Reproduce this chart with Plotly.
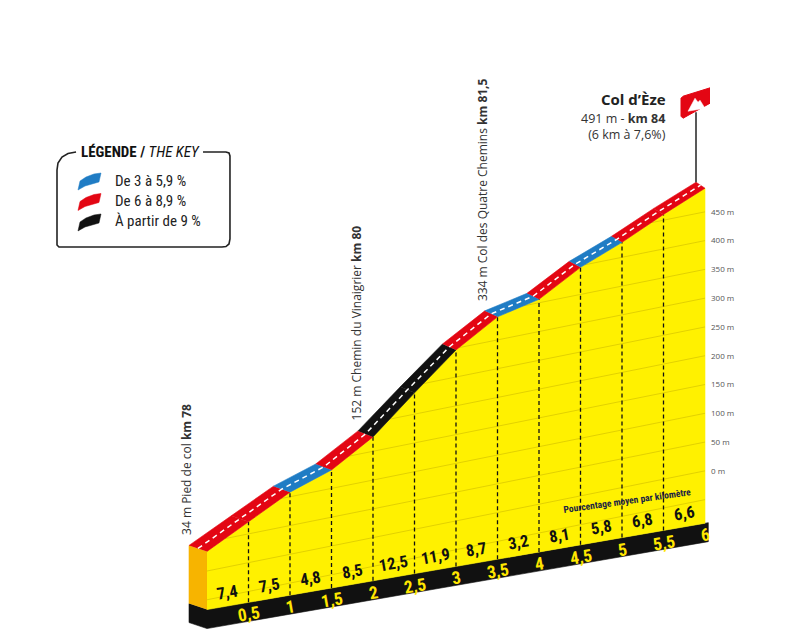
import numpy as np
import plotly.graph_objects as go

km = [0, 0.5, 1, 1.5, 2, 2.5, 3, 3.5, 4, 4.5, 5, 5.5, 6]
altitude = [34, 71, 108, 132, 175, 237, 297, 340, 356, 397, 426, 460, 491]
pente = [7.4, 7.5, 4.8, 8.5, 12.5, 11.9, 8.7, 3.2, 8.1, 5.8, 6.8, 6.6]
km_labels = ["0,5", "1", "1,5", "2", "2,5", "3", "3,5", "4", "4,5", "5", "5,5", "6"]
alt_ticks = [0, 50, 100, 150, 200, 250, 300, 350, 400, 450]
grid_levels = [-50, 0, 50, 100, 150, 200, 250, 300, 350, 400, 450]
repere_km = [0, 2, 3.5]
repere_txt = ["34 m Pied de col <b>km 78</b>",
              "152 m Chemin du Vinaigrier <b>km 80</b>",
              "334 m Col des Quatre Chemins <b>km 81,5</b>"]
legend_txt = ["De 3 à 5,9 %", "De 6 à 8,9 %", "À partir de 9 %"]

YELLOW = "#fff100"
ORANGE = "#f7b400"
BLUE = "#1f7cc4"
RED = "#e30613"
BLACK = "#111111"
NARROW = "Roboto Condensed, Liberation Sans Narrow, Roboto, sans-serif"
OPEN = "Open Sans, Noto Sans, sans-serif"

W, H, MR = 790, 634, 88
PW = W - MR
OFS = 8           # marge du body de la page
PX_KM = 83.0      # px par km
PX_M = 0.5756     # px par m
SHEAR = 29.0      # perspective des altitudes (m par km)
BASE0, BASE_SLOPE, BASE_H = -67.0, 25.0, 33.0
X0_PX, Y0_PX = 207, 571   # km 0 / altitude-écran 0


def base(k):
    return BASE0 + BASE_SLOPE * np.asarray(k, dtype=float)


def depth(k):
    # décalage vers l'arrière du ruban (perspective)
    return (-18 + 1.5 * np.asarray(k, dtype=float)) / PX_KM, 6 / PX_M


def col(p):
    if p >= 9:
        return BLACK
    if p >= 6:
        return RED
    return BLUE


fk = np.array(km, dtype=float)
fe = np.array(altitude, dtype=float)
fD = fe + SHEAR * fk
dk, dD = depth(fk)
bk, bD = fk + dk, fD + dD

fig = go.Figure()


def poly(xs, ys, color, lw=0.6):
    fig.add_trace(go.Scatter(x=list(xs), y=list(ys), mode="lines", fill="toself",
                             fillcolor=color, line=dict(color=color, width=lw),
                             hoverinfo="skip", showlegend=False))


# socle noir (face avant + côté gauche)
kend = fk[-1] + 0.04
poly([0, kend, kend, 0], [base(0), base(kend), base(kend) - BASE_H, base(0) - BASE_H], BLACK)
poly([0, bk[0], bk[0], 0], [base(0), base(0) + dD, base(0) + dD - BASE_H, base(0) - BASE_H], BLACK)

# côté gauche orange et face jaune
poly([0, 0, bk[0], bk[0]], [base(0), fD[0], bD[0], base(0) + dD], ORANGE)
poly(list(fk) + [fk[-1], 0], list(fD) + [float(base(fk[-1])), float(base(0))], YELLOW)

# lignes d'altitude inclinées dans la face jaune
gx, gy = [], []
for e in grid_levels:
    k0 = 0.0 if e <= fe[0] else float(np.interp(e, fe, fk))
    gx += [k0, fk[-1], None]
    gy += [e + SHEAR * k0, e + SHEAR * fk[-1], None]
fig.add_trace(go.Scatter(x=gx, y=gy, mode="lines", line=dict(color="rgba(190,170,0,0.45)", width=1),
                         hoverinfo="skip", showlegend=False))

# repères verticaux tous les 500 m
vx, vy = [], []
for k, d in zip(fk[1:-1], fD[1:-1]):
    vx += [k, k, None]
    vy += [float(base(k)), d, None]
fig.add_trace(go.Scatter(x=vx, y=vy, mode="lines", line=dict(color="#111", width=1.3, dash="4px,3px"),
                         hoverinfo="skip", showlegend=False))

# ruban coloré selon la pente
for i, p in enumerate(pente):
    c = col(p)
    poly([fk[i], fk[i + 1], bk[i + 1], bk[i]], [fD[i], fD[i + 1], bD[i + 1], bD[i]], c)

fig.add_trace(go.Scatter(x=(fk + bk) / 2, y=(fD + bD) / 2, mode="lines",
                         line=dict(color="white", width=1.5, dash="5px,4px"),
                         hoverinfo="skip", showlegend=False))

ann = []
# pourcentages par demi-km
for i, p in enumerate(pente):
    km_mid = (fk[i] + fk[i + 1]) / 2
    ann.append(dict(x=km_mid, y=float(base(km_mid)) + 23,
                    text="<b>" + f"{p:.1f}".replace(".", ",") + "</b>", showarrow=False,
                    textangle=-10, font=dict(family=NARROW, size=16.5, color="#111")))
# kilomètres sur le socle
for k, t in zip(fk[1:], km_labels):
    ann.append(dict(x=k, y=float(base(k)) - 21, text="<b>" + t + "</b>", showarrow=False,
                    textangle=-10, font=dict(family=NARROW, size=17.5, color="#ffe600")))

ann.append(dict(x=5.07, y=122, text="<b>Pourcentage moyen par kilomètre</b>", showarrow=False,
                textangle=-8, font=dict(family=NARROW, size=9.5, color="#1a2444")))

# repères nommés (texte vertical)
for k, t in zip(repere_km, repere_txt):
    i = km.index(k)
    ann.append(dict(x=bk[i], y=bD[i], text=t, showarrow=False, textangle=-90,
                    xanchor="center", yanchor="bottom", xshift=-2, yshift=8,
                    font=dict(family=OPEN, size=12, color="#333")))

# sommet
sx, sy = fk[-1], fD[-1]
ann.append(dict(x=sx, y=sy, text="<b>Col d’Èze</b>", showarrow=False, xanchor="right",
                yanchor="middle", xshift=-37, yshift=89, font=dict(family=OPEN, size=15, color="#222")))
ann.append(dict(x=sx, y=sy, text="491 m - <b>km 84</b><br>(6 km à 7,6%)", showarrow=False,
                xanchor="right", yanchor="top", align="right", xshift=-37, yshift=80,
                font=dict(family=OPEN, size=12.5, color="#333")))

shapes = []
# drapeau du sommet
ax0, ay0 = bk[-1], bD[-1]


def off(dx, dy):
    return ax0 + dx / PX_KM, ay0 + dy / PX_M


def dpath(pts):
    return "M " + " L ".join(f"{x:.4f},{y:.3f}" for x, y in (off(a, b) for a, b in pts)) + " Z"


px0, py0 = off(0, 0)
px1, py1 = off(0, 70)
shapes.append(dict(type="line", xref="x", yref="y", x0=px0, y0=py0, x1=px1, y1=py1,
                   line=dict(color="#222", width=1.5)))
shapes.append(dict(type="path", xref="x", yref="y",
                   path=dpath([(-15, 84), (-13, 86), (16, 95), (18, 93), (16, 80), (14, 79), (-13, 64), (-15, 66)]),
                   fillcolor=RED, line=dict(color=RED, width=1)))
shapes.append(dict(type="path", xref="x", yref="y",
                   path=dpath([(-8, 71), (-1, 84), (2, 80), (4, 82), (9, 74)]),
                   fillcolor="white", line=dict(color="white", width=0.5)))


# légende (coordonnées de la page -> papier)
def px(x):
    return (x - OFS) / PW


def py(y):
    return 1 - (y - OFS) / H


def ppath(pts, close=True):
    s = "M " + " L ".join(f"{px(x):.4f},{py(y):.4f}" for x, y in pts)
    return s + (" Z" if close else "")


border = [(203, 152), (226, 152), (229, 153), (230, 156), (230, 239), (229, 244), (226, 246.5),
          (222, 247), (59, 247), (57, 245), (57, 170), (58, 163), (62, 157), (68, 153.5), (76, 152)]
shapes.append(dict(type="path", xref="paper", yref="paper", path=ppath(border, close=False),
                   line=dict(color="#222", width=1.6)))
sw = [(78, 190), (80, 181), (86, 177), (94, 174), (101, 173), (99, 182), (92, 184), (85, 186)]
for j, c in enumerate([BLUE, RED, BLACK]):
    shapes.append(dict(type="path", xref="paper", yref="paper",
                       path=ppath([(x, y + 20.5 * j) for x, y in sw]),
                       fillcolor=c, line=dict(color=c, width=0.5)))
    ann.append(dict(x=px(113), y=py(181 + 20 * j), xref="paper", yref="paper", text=legend_txt[j],
                    showarrow=False, xanchor="left", yanchor="middle",
                    font=dict(family=NARROW, size=15, color="#222")))
ann.append(dict(x=px(79), y=py(152), xref="paper", yref="paper",
                text="<b>LÉGENDE /</b> <i>THE KEY</i>", showarrow=False, xanchor="left",
                yanchor="middle", font=dict(family=NARROW, size=15, color="#111")))

fig.update_layout(
    width=W, height=H,
    margin=dict(l=0, r=MR, t=0, b=0),
    paper_bgcolor="white", plot_bgcolor="white",
    showlegend=False,
    xaxis=dict(range=[(OFS - X0_PX) / PX_KM, (PW + OFS - X0_PX) / PX_KM], visible=False, fixedrange=True),
    yaxis=dict(range=[(Y0_PX - H - OFS) / PX_M, (Y0_PX - OFS) / PX_M], side="right", showgrid=False,
               zeroline=False, showline=False, ticks="", fixedrange=True,
               tickvals=[e + SHEAR * fk[-1] for e in alt_ticks],
               ticktext=[f"{e} m" for e in alt_ticks],
               tickfont=dict(family=OPEN, size=8, color="#555")),
    annotations=ann,
    shapes=shapes,
)

fig.write_html("out.html")
